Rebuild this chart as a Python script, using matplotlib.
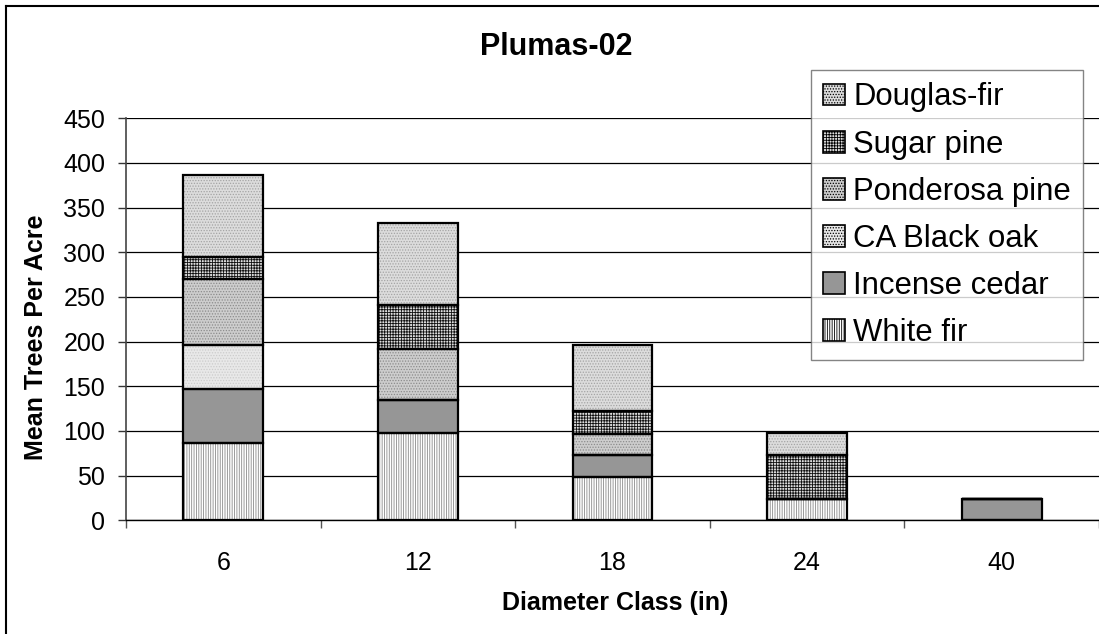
import numpy as np
import matplotlib
matplotlib.use("Agg")
from matplotlib import pyplot as plt
from matplotlib.lines import Line2D

plt.rcParams['font.family'] = ['Liberation Sans', 'DejaVu Sans']
plt.rcParams['hatch.linewidth'] = 0.6

classes = ["6", "12", "18", "24", "40"]

# trees per acre by species, stacked bottom to top
white_fir = [86, 98, 49, 24, 0]
incense_cedar = [61, 37, 24, 0, 24]
black_oak = [49, 0, 0, 0, 0]
ponderosa_pine = [74, 57, 24, 0, 0]
sugar_pine = [25, 49, 25, 49, 0]
douglas_fir = [92, 92, 74, 25, 0]

series = [
    ("White fir", white_fir, "white", "|||||||", "#8a8a8a"),
    ("Incense cedar", incense_cedar, "#969696", "", "#969696"),
    ("CA Black oak", black_oak, "#e8e8e8", "......", "#cccccc"),
    ("Ponderosa pine", ponderosa_pine, "#cdcdcd", "......", "#8c8c8c"),
    ("Sugar pine", sugar_pine, "#dddddd", "++++++", "#111111"),
    ("Douglas-fir", douglas_fir, "#dcdcdc", "......", "#a4a4a4"),
]

fig = plt.figure(figsize=(10.99, 6.34), dpi=100)
ax = fig.add_axes([126/1099, 1-520.3/634, 1-126/1099, (520.3-118.3)/634])

x = np.arange(len(classes))
w = 0.41
bottom = np.zeros(len(classes))
handles = []
for name, vals, face, hatch, hcol in series:
    vals = np.array(vals, dtype=float)
    # hatch layer, then a plain black outline on top
    bars = ax.bar(x, vals, w, bottom=bottom, color=face, hatch=hatch,
                  edgecolor=hcol, linewidth=0, zorder=3)
    ax.bar(x, vals, w, bottom=bottom, fill=False, edgecolor="black",
           linewidth=1.6, zorder=4)
    handles.append(bars)
    bottom += vals

ax.set_xlim(-0.5, 4.5)
ax.set_ylim(0, 450)
ax.set_yticks(np.arange(0, 451, 50))
ax.yaxis.grid(True, color="black", linewidth=0.9, zorder=0)
ax.set_axisbelow(True)

ax.set_xticks(np.arange(-0.5, 4.6, 1.0))
ax.set_xticklabels([])
ax.set_xticks(x, minor=True)
ax.set_xticklabels(classes, minor=True)
ax.tick_params(axis="x", which="major", direction="out", length=6, color="#555555", width=1)
ax.tick_params(axis="x", which="minor", length=0, pad=22, labelsize=18)
ax.tick_params(axis="y", direction="out", length=6, color="#333333", width=1, pad=9, labelsize=18)

for s in ["top", "right"]:
    ax.spines[s].set_visible(False)
ax.spines["left"].set_color("#444444")
ax.spines["left"].set_linewidth(1.2)
ax.spines["bottom"].set_color("black")
ax.spines["bottom"].set_linewidth(1.0)

fig.text(556/1099, 1-47/634, "Plumas-02", ha="center", va="center",
         fontsize=22, fontweight="bold")
fig.text(615/1099, 1-603/634, "Diameter Class (in)", ha="center", va="center",
         fontsize=18, fontweight="bold")
fig.text(36/1099, 1-337/634, "Mean Trees Per Acre", ha="center", va="center",
         rotation=90, fontsize=18, fontweight="bold")

leg = ax.legend(handles[::-1], [s[0] for s in series][::-1],
                loc="upper left", bbox_to_anchor=(811/1099, 1-70/634),
                bbox_transform=fig.transFigure, borderaxespad=0,
                fontsize=22.4, frameon=True, fancybox=False,
                handlelength=0.7, handleheight=0.7, handletextpad=0.25,
                labelspacing=0.55, borderpad=0.4)
leg.get_frame().set_edgecolor("#666666")
leg.get_frame().set_linewidth(1.0)
leg.set_zorder(10)
for p in leg.get_patches():
    p.set_edgecolor("black")
    p.set_linewidth(1.2)

# outer chart border (left and top edges)
fig.add_artist(Line2D([5.5/1099, 5.5/1099], [0, 1-6/634], transform=fig.transFigure,
                      color="black", linewidth=1.5))
fig.add_artist(Line2D([5.5/1099, 1], [1-6/634, 1-6/634], transform=fig.transFigure,
                      color="black", linewidth=1.5))

fig.savefig("out.png", dpi=100)
